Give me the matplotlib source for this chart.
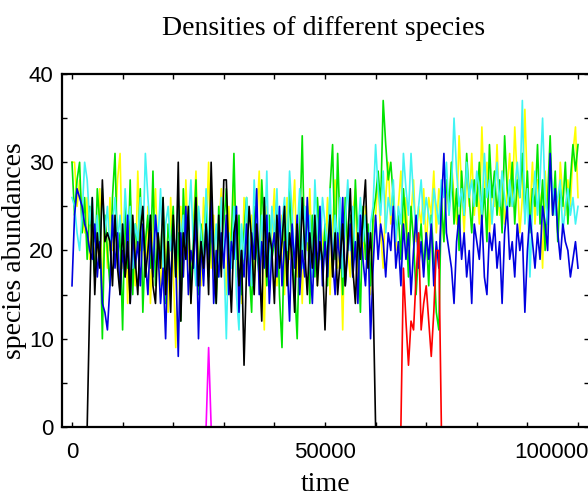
import numpy as np
import matplotlib.pyplot as plt
import matplotlib.transforms as mtransforms
#fonts
plt.rcParams['font.family'] = 'Liberation Sans'
#data: species abundances sampled every 500 time units
time = np.arange(0, 100001, 500)
yellow = [30,30,25,28,24,22,26,19,23,17,21,27,15,24,18,26,20,22,28,31,
          18,24,14,26,21,16,29,20,23,17,25,14,22,27,19,16,24,21,13,26,
          18,9,22,25,17,28,20,14,23,29,19,16,26,21,30,18,24,15,22,27,
          20,15,25,19,28,17,22,14,26,21,18,24,16,23,29,20,11,25,18,22,
          27,16,21,24,15,26,19,23,28,17,22,14,25,20,27,18,23,16,24,21,
          19,26,15,23,28,18,22,11,25,20,17,24,27,16,22,19,25,21,15,23,
          24,28,22,18,26,30,23,27,20,25,29,22,26,19,24,28,21,25,23,27,
          20,26,24,29,22,27,25,21,28,24,30,26,23,33,27,22,29,25,31,24,
          28,23,34,26,30,22,27,25,32,24,29,23,27,31,25,34,28,22,26,36,
          27,24,30,23,28,26,18,29,25,31,24,27,22,30,26,24,28,25,31,34,
          26]
green = [30,24,28,30,22,26,19,25,21,17,27,23,10,24,20,16,26,31,19,22,
         11,25,18,28,15,23,20,27,13,21,24,18,29,16,22,19,26,14,23,20,
         25,17,22,12,27,19,24,16,21,28,15,23,19,26,17,22,20,14,25,18,
         23,27,16,21,31,19,24,15,22,26,18,13,25,20,17,28,22,16,24,19,
         21,26,15,9,23,18,27,20,16,10,22,33,19,25,14,24,17,26,21,18,
         23,16,27,32,19,31,22,15,26,20,24,17,28,21,13,25,19,23,16,24,
         26,29,25,37,32,28,30,26,22,24,19,27,23,17,25,21,15,20,23,18,
         22,16,24,19,13,11,26,21,28,25,30,23,27,20,29,24,31,26,22,28,
         25,30,23,27,21,32,26,29,24,28,22,33,27,25,30,23,28,26,31,24,
         29,22,27,25,32,23,28,20,26,33,24,29,21,27,25,30,23,28,32,29,
         32]
cyan = [26,25,22,20,24,30,28,23,26,21,24,19,27,22,25,20,23,26,21,24,
        19,27,22,25,18,23,21,26,20,31,26,22,19,24,21,27,18,23,25,20,
        22,17,26,21,24,19,23,28,20,16,25,22,18,27,21,24,19,23,17,26,
        20,10,22,18,25,15,11,23,19,26,21,16,28,22,18,24,20,29,17,25,
        21,27,18,23,26,20,29,24,19,22,27,18,25,21,24,17,28,22,19,26,
        23,20,27,18,24,21,26,17,23,28,20,25,19,22,26,21,24,18,23,25,
        32,27,24,29,22,26,24,28,21,25,23,31,27,24,31,26,22,25,28,23,
        26,24,22,27,25,23,28,26,30,24,27,35,29,25,27,24,30,26,28,25,
        29,27,24,31,26,28,23,27,30,25,29,26,24,28,25,27,30,26,37,23,
        27,17,25,29,24,28,35,26,23,29,27,24,26,28,22,25,27,24,26,23,
        25]
blue = [16,24,27,26,25,23,22,20,19,23,17,21,14,13,11,16,24,18,22,15,
        20,17,24,14,22,18,21,16,23,19,15,22,17,24,20,14,18,10,21,16,
        23,19,8,22,17,25,15,20,18,24,10,21,16,23,19,26,14,20,17,22,
        18,24,15,21,19,25,13,20,17,23,16,22,19,27,15,21,18,24,14,20,
        22,17,25,16,21,19,12,23,18,24,15,20,17,26,19,14,22,18,25,16,
        21,17,24,19,15,22,18,26,16,20,23,17,21,14,24,19,16,22,10,18,
        24,19,23,21,17,22,20,25,18,21,16,23,19,22,15,20,24,18,21,17,
        22,19,23,16,21,18,25,31,22,20,18,14,21,24,19,22,17,20,14,23,
        21,19,24,17,15,22,20,23,18,21,14,22,25,19,21,17,23,20,22,13,
        20,24,21,18,22,19,25,23,20,31,24,27,22,19,23,21,20,17,19,21,
        18]
black = [0,0,0,0,0,0,0,14,26,15,22,18,28,21,22,21,16,24,18,15,
         23,17,21,14,24,19,15,22,25,17,20,24,16,14,22,18,26,15,21,13,
         24,17,30,12,22,19,25,14,20,26,16,21,18,23,15,30,20,14,24,17,
         28,28,19,13,22,24,16,20,7,18,25,21,15,23,19,12,26,17,22,20,
         14,24,18,21,25,16,22,19,13,23,17,26,20,15,22,18,24,16,21,19,
         11,20,24,17,22,15,19,23,16,21,27,18,14,22,19,24,28,18,22,15] + [0]*81
red = [0]*131 + [18,12,7,12,11,17,22,11,14,16,12,8,13,20,20] + [0]*55
magenta = [0]*54 + [9] + [0]*146
#figure
fig = plt.figure(figsize=(5.88,4.97), dpi=100)
ax = fig.add_axes([62/588, 70/497, 527/588, 353/497])
ax.plot(time, yellow, color="#ffff00", lw=1.2)
ax.plot(time, green, color="#00e400", lw=1.2)
ax.plot(time, cyan, color="#40f4f4", lw=1.2)
ax.plot(time, blue, color="#0000e0", lw=1.2)
ax.plot(time, red, color="#ff0000", lw=1.2)
ax.plot(time, magenta, color="#ff00ff", lw=1.2)
ax.plot(time, black, color="black", lw=1.2)
ax.set_xlim(-1976, 102174)
ax.set_ylim(0, 40)
ax.set_xticks([0, 50000, 100000])
ax.set_xticks(np.arange(0, 100001, 10000), minor=True)
ax.set_yticks([0, 10, 20, 30, 40])
ax.set_yticks(np.arange(0, 41, 5), minor=True)
ax.tick_params(which='both', direction='in', top=True, right=True, length=3.4, width=1, labelsize=16)
ax.tick_params(axis='x', pad=11)
ax.tick_params(axis='y', pad=6)
for s in ax.spines.values():
    s.set_linewidth(1.6)
ax.spines['right'].set_visible(False)
#shift the last x label so it fits in the figure
lab = ax.get_xticklabels()[-1]
lab.set_transform(lab.get_transform() + mtransforms.ScaledTranslation(-27/100, 0, fig.dpi_scale_trans))
#texts
fig.text(324/588, 1-35/497, "Densities of different species", family='Liberation Serif', fontsize=20, ha='center', va='baseline')
fig.text(326/588, 6/497, "time", family='Liberation Serif', fontsize=20, ha='center', va='baseline')
fig.text(15/588, 1-250.5/497, "species abundances", family='Liberation Serif', fontsize=20, ha='center', va='center', rotation=90)
plt.savefig("out.png", dpi=100)
